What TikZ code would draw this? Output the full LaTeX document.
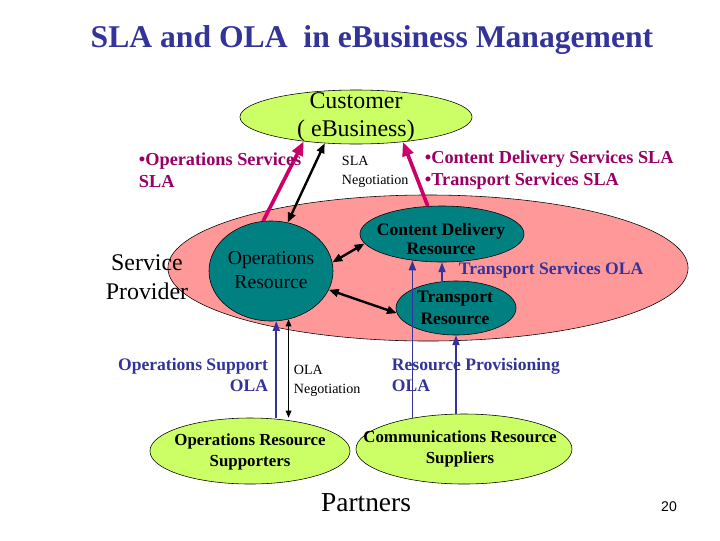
\documentclass[tikz,border=0pt]{standalone}
\usepackage{fontspec}
\setmainfont{Liberation Serif}
\setsansfont{Liberation Sans}
\usetikzlibrary{arrows.meta,shapes.geometric}
\definecolor{slamagenta}{HTML}{990066}
\definecolor{slaarrow}{HTML}{CC0066}
\definecolor{olanavy}{HTML}{333399}
\definecolor{partnergreen}{HTML}{CCFF66}
\definecolor{providerpink}{HTML}{FF9999}
\definecolor{resourceteal}{HTML}{008080}
\newcommand\sizept[2]{\fontsize{#1}{#2}\selectfont}

\begin{document}
\begin{tikzpicture}[
  x=0.025cm,y=-0.025cm,
  blob/.style={ellipse,draw=black,thin,inner sep=0pt},
  partner/.style={blob,fill=partnergreen},
  resource/.style={blob,fill=resourceteal},
  slaflow/.style={-{Triangle[length=10pt,width=8pt]},line width=2.6pt,draw=slaarrow},
  negflow/.style={{Triangle[length=7pt,width=5.5pt]}-{Triangle[length=7pt,width=5.5pt]},line width=1.7pt},
  olaflow/.style={-{Triangle[length=7pt,width=5pt]},line width=1.2pt,draw=olanavy},
  olaneg/.style={{Triangle[length=5pt,width=4pt]}-{Triangle[length=5pt,width=4pt]},line width=1pt},
  slatext/.style={font=\bfseries\sizept{13}{15.5},text=slamagenta,align=left},
  olatext/.style={font=\bfseries\sizept{12.5}{15},text=olanavy},
  negtext/.style={font=\sizept{10}{14},align=left,anchor=west}
]
  \useasboundingbox (0,0) rectangle (720,540);
  \node[font=\bfseries\sizept{22.5}{27},text=olanavy] (title) at (372,40)
    {SLA and OLA\ \ in eBusiness Management};

  \node[blob,fill=providerpink,minimum width=13cm,minimum height=3.65cm] (provider) at (428,268) {};
  \node[resource,minimum width=3.1cm,minimum height=2.5cm] (opsres) at (271,271) {};
  \node[resource,minimum width=4.1cm,minimum height=1.4cm] (cdres) at (442,234) {};
  \node[resource,minimum width=3cm,minimum height=1.35cm] (trres) at (456,308) {};
  \node[partner,minimum width=5.8cm,minimum height=1.35cm] (cust) at (356,117) {};
  \node[partner,minimum width=5cm,minimum height=1.65cm] (supporters) at (250,451) {};
  \node[partner,minimum width=5.4cm,minimum height=1.75cm] (suppliers) at (464,449) {};

  \draw[slaflow] (opsres.99) -- (cust.-155);
  \draw[slaflow] (cdres.117) -- (cust.-28);
  \draw[negflow] (cust.-140) -- (opsres.71);
  \draw[negflow] (opsres.8) -- (cdres.187);
  \draw[negflow] (opsres.-18) -- (trres.185);
  \draw[olaflow] (supporters.north -| opsres.-84) -- (opsres.-84);
  \draw[olaneg] (supporters.north -| opsres.-70) -- (opsres.-70);
  \draw[olaflow] (suppliers.149) -- (suppliers.149 |- cdres.-138);
  \draw[olaflow] (suppliers.north -| trres.south) -- (trres.south);
  \draw[olaflow] (trres.north -| cdres.south) -- (cdres.south);

  \node[align=center,font=\sizept{17}{20}] (custlabel) at (cust.center)
    {Customer\\( eBusiness)};
  \node[align=center,font=\sizept{17}{20.5}] (providerlabel) at (147,277)
    {Service\\Provider};
  \node[align=center,font=\sizept{14}{17}] (opslabel) at (271,270)
    {Operations\\Resource};
  \node[align=center,font=\bfseries\sizept{12.5}{14}] (cdlabel) at (441,239)
    {Content Delivery\\Resource};
  \node[align=center,font=\bfseries\sizept{12.5}{15.5}] (trlabel) at (455,308)
    {Transport\\Resource};
  \node[align=center,font=\bfseries\sizept{12}{15.5}] (supporterslabel) at (250,452)
    {Operations Resource\\Supporters};
  \node[align=center,font=\bfseries\sizept{12}{15.5}] (supplierslabel) at (460,449)
    {Communications Resource\\Suppliers};

  \node[slatext,anchor=west] (opssla) at (134,170)
    {\textbullet Operations Services\\SLA};
  \node[slatext,anchor=west] (cdsla) at (420,170)
    {\textbullet Content Delivery Services SLA\\\textbullet Transport Services SLA};
  \node[negtext] (slaneg) at (337,172) {SLA\\Negotiation};
  \node[negtext] (olaneg) at (289,381) {OLA\\Negotiation};
  \node[olatext,anchor=west] (trola) at (454,270) {Transport Services OLA};
  \node[olatext,anchor=east,align=right] (opsola) at (273,375)
    {Operations Support\\OLA};
  \node[olatext,anchor=west,align=left] (provola) at (387,375)
    {Resource Provisioning\\OLA};

  \node[font=\sizept{19.5}{23}] (partners) at (366,503) {Partners};
  \node[font=\sffamily\sizept{10}{12}] (pagenum) at (669,507) {20};
\end{tikzpicture}
\end{document}
